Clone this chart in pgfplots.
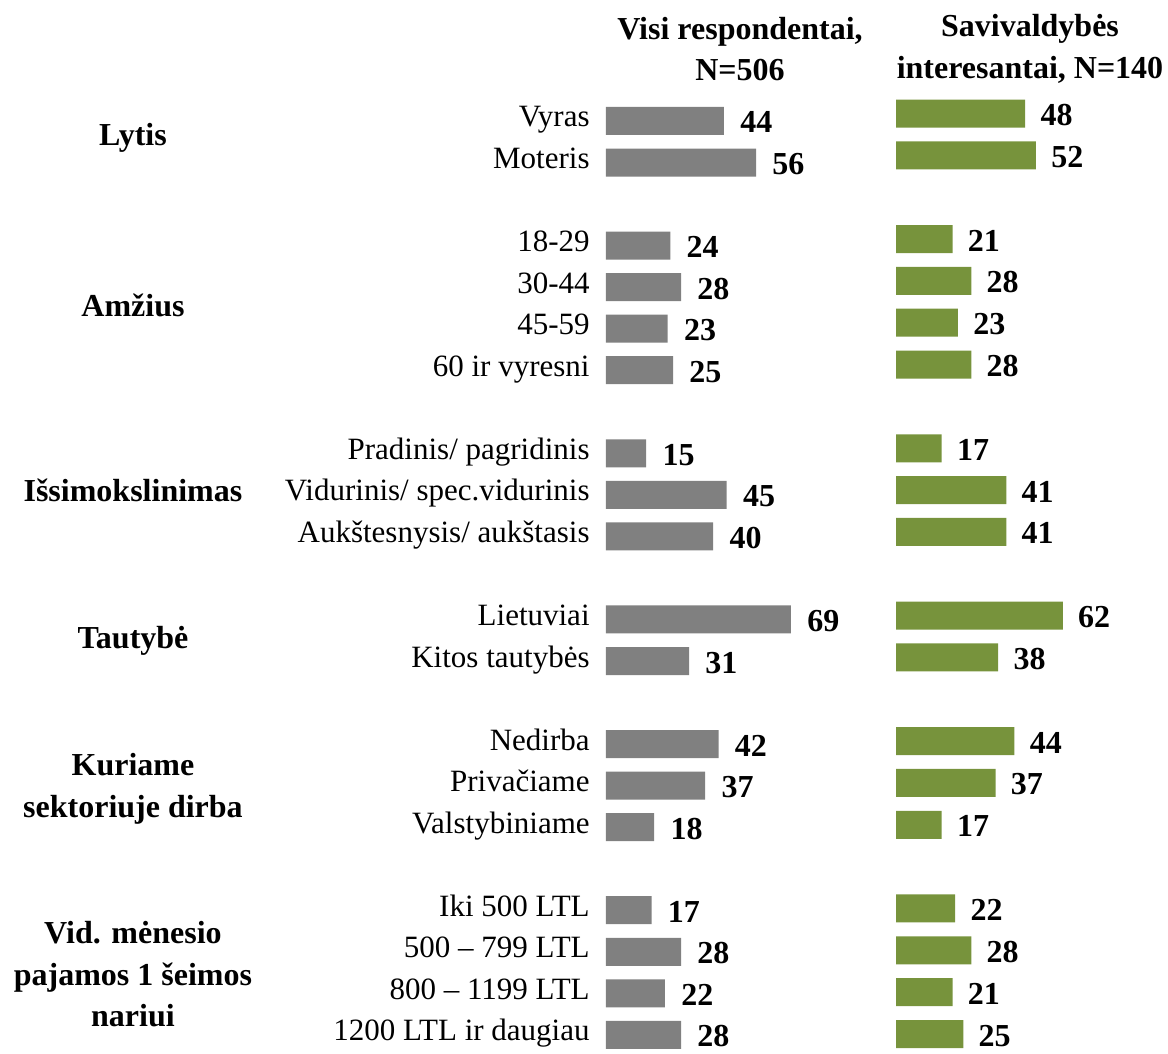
\documentclass[border=0pt]{standalone}
\usepackage{fontspec}
\setmainfont{Liberation Serif}
\usepackage{pgfplots}
\pgfplotsset{compat=1.18}
\definecolor{barGray}{RGB}{128,128,128}
\definecolor{barGreen}{RGB}{119,147,60}
\newcommand{\lbl}{\fontsize{15.5}{20.75}\selectfont}
\newcommand{\blbl}{\fontsize{16}{20.75}\selectfont\bfseries}
\tikzset{cat/.style={anchor=base east, inner sep=0pt, xshift=-8pt, yshift=-3pt, font=\lbl},
         grp/.style={align=center, font=\blbl, yshift=2pt}}
\begin{document}
\begin{tikzpicture}
\useasboundingbox (0,0) rectangle (584pt,-527pt);
% headers
\node[align=center, font=\blbl] at (370pt,-24.5pt) {Visi respondentai,\\N=506};
\node[align=center, font=\blbl] at (515pt,-24.5pt) {Savivaldybės\\interesantai, N=140};
% gray panel
\begin{axis}[
  at={(303pt,-50.1pt)}, anchor=north west,
  x=1.34pt, y=20.77pt, xmin=0, xmax=80, ymin=-0.5, ymax=22.5, y dir=reverse,
  hide axis, clip=false, xbar, bar width=14pt,
  /pgf/number format/assume math mode=true,
  nodes near coords, point meta=x,
  every node near coord/.append style={anchor=base west, inner sep=0pt, xshift=8pt, yshift=-6pt, font=\blbl, text=black},
]
\addplot[fill=barGray, draw=none] coordinates {
(44,0) (56,1)
(24,3) (28,4) (23,5) (25,6)
(15,8) (45,9) (40,10)
(69,12) (31,13)
(42,15) (37,16) (18,17)
(17,19) (28,20) (22,21) (28,22)};
\node[cat] at (axis cs:0,0) {Vyras};
\node[cat] at (axis cs:0,1) {Moteris};
\node[cat] at (axis cs:0,3) {18-29};
\node[cat] at (axis cs:0,4) {30-44};
\node[cat] at (axis cs:0,5) {45-59};
\node[cat] at (axis cs:0,6) {60 ir vyresni};
\node[cat] at (axis cs:0,8) {Pradinis/ pagridinis};
\node[cat] at (axis cs:0,9) {Vidurinis/ spec.vidurinis};
\node[cat] at (axis cs:0,10) {Aukštesnysis/ aukštasis};
\node[cat] at (axis cs:0,12) {Lietuviai};
\node[cat] at (axis cs:0,13) {Kitos tautybės};
\node[cat] at (axis cs:0,15) {Nedirba};
\node[cat] at (axis cs:0,16) {Privačiame};
\node[cat] at (axis cs:0,17) {Valstybiniame};
\node[cat] at (axis cs:0,19) {Iki 500 LTL};
\node[cat] at (axis cs:0,20) {500 – 799 LTL};
\node[cat] at (axis cs:0,21) {800 – 1199 LTL};
\node[cat] at (axis cs:0,22) {1200 LTL ir daugiau};
\node[grp] at (axis cs:-176.5,0.5) {Lytis};
\node[grp, yshift=-1pt] at (axis cs:-176.5,4.5) {Amžius};
\node[grp] at (axis cs:-176.5,9) {Išsimokslinimas};
\node[grp, yshift=-2.5pt] at (axis cs:-176.5,12.5) {Tautybė};
\node[grp, yshift=-3.5pt] at (axis cs:-176.5,16) {Kuriame\\sektoriuje dirba};
\node[grp, yshift=-3pt] at (axis cs:-176.5,20.5) {Vid. mėnesio\\pajamos 1 šeimos\\nariui};
\end{axis}
% green panel
\begin{axis}[
  at={(448pt,-46.3pt)}, anchor=north west,
  x=1.345pt, y=20.92pt, xmin=0, xmax=80, ymin=-0.5, ymax=22.5, y dir=reverse,
  hide axis, clip=false, xbar, bar width=14pt,
  /pgf/number format/assume math mode=true,
  nodes near coords, point meta=x,
  every node near coord/.append style={anchor=base west, inner sep=0pt, xshift=7.5pt, yshift=-6pt, font=\blbl, text=black},
]
\addplot[fill=barGreen, draw=none] coordinates {
(48,0) (52,1)
(21,3) (28,4) (23,5) (28,6)
(17,8) (41,9) (41,10)
(62,12) (38,13)
(44,15) (37,16) (17,17)
(22,19) (28,20) (21,21) (25,22)};
\end{axis}
\end{tikzpicture}
\end{document}
